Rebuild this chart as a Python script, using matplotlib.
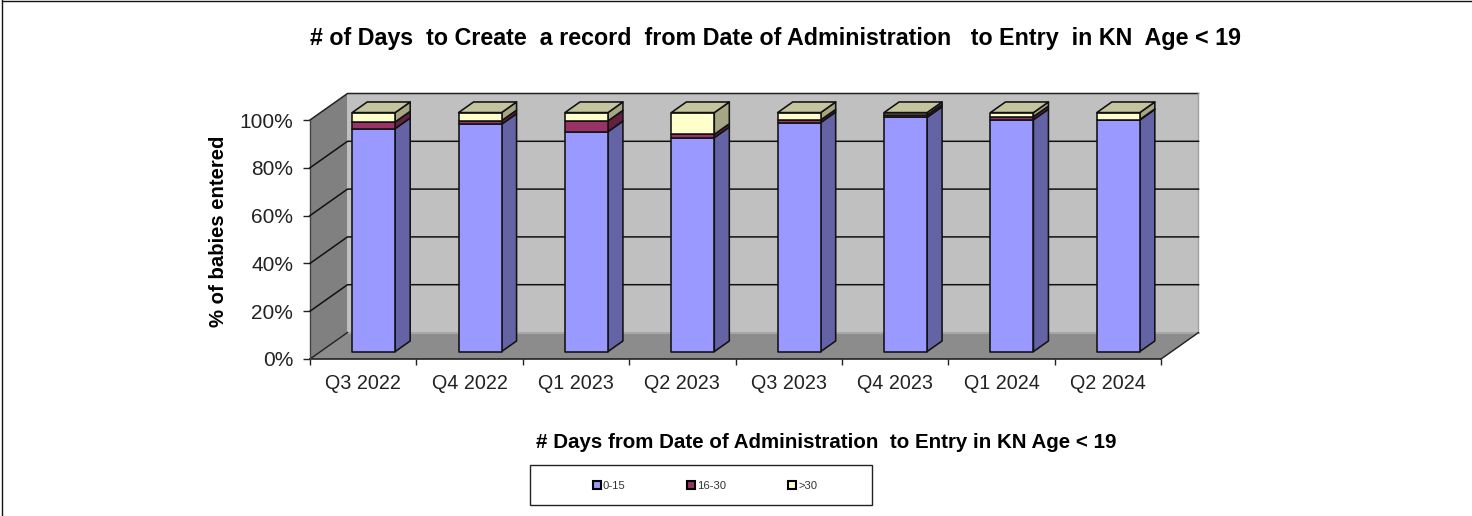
import matplotlib
matplotlib.use("Agg")
import matplotlib.pyplot as plt
from matplotlib.patches import Polygon, Rectangle, Patch
from matplotlib.lines import Line2D

W, H = 1472, 516
plt.rcParams['font.family'] = ['Liberation Sans', 'DejaVu Sans']

quarters = ["Q3 2022", "Q4 2022", "Q1 2023", "Q2 2023", "Q3 2023", "Q4 2023", "Q1 2024", "Q2 2024"]
days_0_15 = [93.3, 95.1, 92.0, 89.5, 95.8, 98.0, 97.0, 96.9]
days_16_30 = [2.8, 1.5, 4.5, 1.4, 1.1, 1.0, 1.3, 0.2]
days_over_30 = [3.9, 3.4, 3.5, 9.1, 3.1, 1.0, 1.7, 2.9]
series_labels = ["0-15", "16-30", ">30"]
y_ticks = [0, 20, 40, 60, 80, 100]

front = ["#9999ff", "#993366", "#ffffcc"]
side = ["#6363a5", "#632142", "#a6a684"]
top_col = "#c4c49e"

fig = plt.figure(figsize=(W / 100, H / 100), dpi=100, facecolor="white")
L, R, B, T = 310, 1161, 359, 120
ax = fig.add_axes([L / W, 1 - B / H, (R - L) / W, (B - T) / H])
ax.set_xlim(0, len(quarters))
ax.set_ylim(0, 100)
ax.patch.set_visible(False)
for s in ax.spines.values():
    s.set_visible(False)

PX = len(quarters) / (R - L)
PY = 100 / (B - T)
DX, DY = 37.5 * PX, 26.5 * PY


def P(x, y, d=0.0):
    return (x + d * DX, y + d * DY)


def poly(pts, fc, ec="black", lw=1.0, z=1):
    ax.add_patch(Polygon(pts, closed=True, facecolor=fc, edgecolor=ec, linewidth=lw, zorder=z, clip_on=False, joinstyle="round"))


n = len(quarters)
# walls and floor
poly([P(0, 0, 1), P(n, 0, 1), P(n, 100, 1), P(0, 100, 1)], "#c0c0c0", "none", 0, 1)
poly([P(0, 0), P(0, 0, 1), P(0, 100, 1), P(0, 100)], "#808080", "none", 0, 1)
poly([P(0, 0), P(n, 0), P(n, 0, 1), P(0, 0, 1)], "#8c8c8c", "none", 0, 1)
ax.plot(*zip(P(0, 100), P(0, 100, 1), P(n, 100, 1)), color="#222222", lw=1.1, zorder=2, clip_on=False)
ax.plot(*zip(P(n, 100, 1), P(n, 0, 1), P(n, 0)), color="#a0a0a0", lw=1.0, zorder=2, clip_on=False)
ax.plot(*zip(P(0, 0, 1), P(n, 0, 1)), color="#a8a8a8", lw=0.8, zorder=2, clip_on=False)
ax.plot(*zip(P(0, 0), P(0, 0, 1)), color="#222222", lw=1.0, zorder=2, clip_on=False)
ax.plot(*zip(P(0, 0), P(n, 0)), color="#222222", lw=1.2, zorder=2, clip_on=False)
ax.plot(*zip(P(0, 0), P(0, 100)), color="#444444", lw=1.0, zorder=2, clip_on=False)
ax.plot(*zip(P(n, 0), P(n, 0, 1)), color="#222222", lw=1.0, zorder=2, clip_on=False)
for v in y_ticks[1:-1]:
    ax.plot(*zip(P(0, v), P(0, v, 1), P(n, v, 1)), color="#111111", lw=1.1, zorder=2, clip_on=False)

# bars
w = 43 * PX
d0, d1 = 0.28, 0.68
for i in range(n):
    xc = i + 0.5
    x0, x1 = xc - w / 2, xc + w / 2
    base = 0.0
    stack = [days_0_15[i], days_16_30[i], days_over_30[i]]
    for j, v in enumerate(stack):
        y0, y1 = base, base + v
        poly([P(x1, y0, d0), P(x1, y0, d1), P(x1, y1, d1), P(x1, y1, d0)], side[j], "#111111", 1.15, 3)
        poly([P(x0, y0, d0), P(x1, y0, d0), P(x1, y1, d0), P(x0, y1, d0)], front[j], "#111111", 1.15, 4)
        base = y1
    poly([P(x0, base, d0), P(x1, base, d0), P(x1, base, d1), P(x0, base, d1)], top_col, "#111111", 1.15, 4)

# axes ticks
ax.set_xticks(range(n + 1))
ax.set_xticklabels([])
ax.set_xticks([i + 0.5 for i in range(n)], quarters, minor=True)
ax.tick_params(axis="x", which="major", length=4.5, width=1, color="#222222", bottom=True)
ax.tick_params(axis="x", which="minor", length=0, labelsize=14.2, pad=11, labelcolor="#222222")
ax.set_yticks(y_ticks, [f"{v}%" for v in y_ticks])
ax.tick_params(axis="y", length=5, width=1, color="#222222", labelsize=15, pad=7.2, labelcolor="#222222")

fig.text(776 / W, 1 - 38 / H, "# of Days  to Create  a record  from Date of Administration   to Entry  in KN  Age < 19",
         ha="center", va="center", fontsize=16.75, fontweight="bold", color="black")
fig.text(219 / W, 1 - 231 / H, "% of babies entered", rotation=90, ha="center", va="center",
         fontsize=14.6, fontweight="bold", color="black")
fig.text(826 / W, 1 - 443 / H, "# Days from Date of Administration  to Entry in KN Age < 19",
         ha="center", va="center", fontsize=14.8, fontweight="bold", color="black")

# legend
fig.add_artist(Rectangle((530 / W, 1 - 505 / H), 342 / W, 40 / H, transform=fig.transFigure,
                         facecolor="white", edgecolor="#222222", linewidth=1.0))
handles = [Patch(facecolor=front[k], edgecolor="black", linewidth=1.5, label=series_labels[k]) for k in range(3)]
fig.legend(handles=handles, loc="center", bbox_to_anchor=(705 / W, 1 - 486 / H), ncol=3, frameon=False,
           fontsize=8.1, handlelength=0.71, handleheight=0.71, handletextpad=0.18, columnspacing=5.5,
           labelcolor="#333333")

# image border
fig.add_artist(Line2D([2 / W, 2 / W], [0, 1], transform=fig.transFigure, color="#111111", lw=1.0))
fig.add_artist(Line2D([2 / W, 1], [1 - 0.7 / H, 1 - 0.7 / H], transform=fig.transFigure, color="#111111", lw=1.0))

fig.savefig("out.png", dpi=100, facecolor="white")
